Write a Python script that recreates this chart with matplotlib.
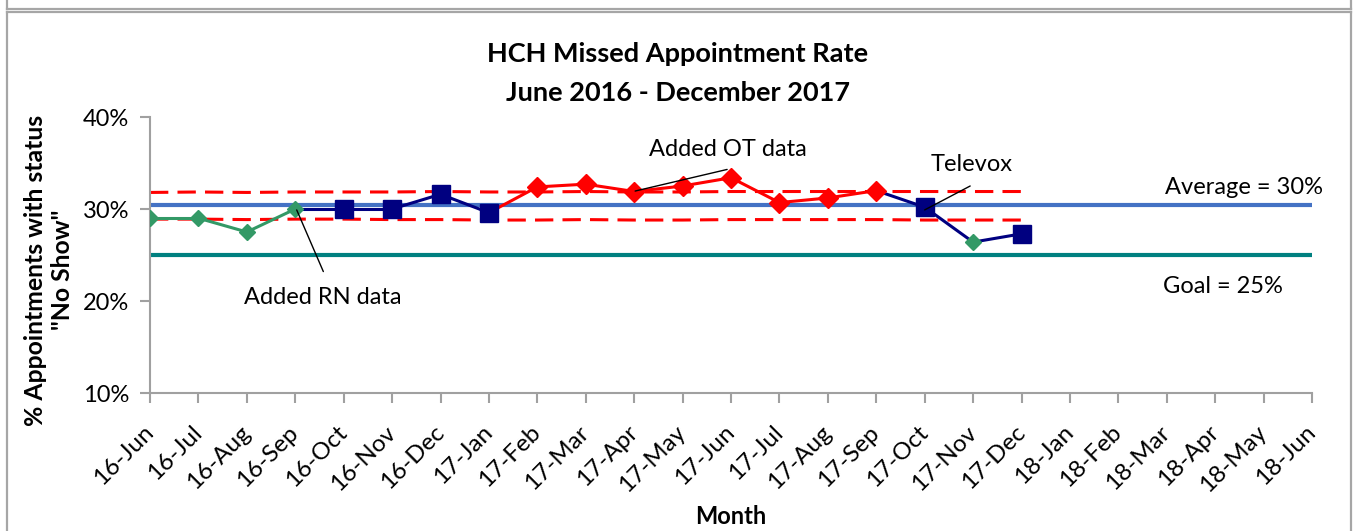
import matplotlib
matplotlib.use('Agg')
import matplotlib.pyplot as plt
from matplotlib.lines import Line2D

# ---------------- data ----------------
months = ['16-Jun', '16-Jul', '16-Aug', '16-Sep', '16-Oct', '16-Nov', '16-Dec',
          '17-Jan', '17-Feb', '17-Mar', '17-Apr', '17-May', '17-Jun', '17-Jul',
          '17-Aug', '17-Sep', '17-Oct', '17-Nov', '17-Dec', '18-Jan', '18-Feb',
          '18-Mar', '18-Apr', '18-May', '18-Jun']
rates = [29.0, 29.0, 27.5, 30.0, 30.0, 30.0, 31.6, 29.6, 32.4, 32.7, 31.9,
         32.5, 33.4, 30.7, 31.2, 32.0, 30.2, 26.4, 27.3]
point_groups = ['RN'] * 4 + ['base'] * 4 + ['OT'] * 8 + ['base', 'RN', 'base']
segment_groups = ['RN'] * 3 + ['base'] * 4 + ['OT'] * 8 + ['base'] * 3
ucl = [31.8, 31.85, 31.8, 31.85, 31.85, 31.85, 31.9, 31.85, 31.85, 31.9, 31.85,
       31.85, 31.9, 31.9, 31.9, 31.9, 31.9, 31.9, 31.9]
lcl = [28.9, 28.9, 28.85, 28.9, 28.9, 28.85, 28.85, 28.8, 28.8, 28.85, 28.8,
       28.8, 28.85, 28.85, 28.85, 28.85, 28.8, 28.8, 28.8]
average = 30.4
goal = 25.0
yticks = [10, 20, 30, 40]

styles = {
    'RN': dict(color='#339966', marker='D', ms=8.6),
    'base': dict(color='#000080', marker='s', ms=12.5),
    'OT': dict(color='#FF0000', marker='D', ms=9.8),
}

FONT = 'Lato'
plt.rcParams['font.family'] = [FONT, 'DejaVu Sans']

W, H = 1356, 531
fig = plt.figure(figsize=(W / 100, H / 100), dpi=100)
fig.patch.set_facecolor('white')

ax = fig.add_axes([150 / W, 1 - 393 / H, (1312 - 150) / W, (393 - 117) / H])
ax.set_facecolor('none')

x = list(range(len(rates)))

# reference lines
ax.axhline(average, color='#4472C4', lw=3.0, zorder=2)
ax.axhline(goal, color='#008080', lw=3.0, zorder=2)
ax.plot(x, ucl, color='#FF0000', lw=2.2, ls=(0, (6, 3)), zorder=2.5)
ax.plot(x, lcl, color='#FF0000', lw=2.2, ls=(0, (6, 3)), zorder=2.5)

# data segments
for i, g in enumerate(segment_groups):
    ax.plot([x[i], x[i + 1]], rates[i:i + 2], color=styles[g]['color'],
            lw=2.2, zorder=3, solid_capstyle='round')

# markers
for g, st in styles.items():
    xs = [xi for xi, pg in zip(x, point_groups) if pg == g]
    ys = [r for r, pg in zip(rates, point_groups) if pg == g]
    ax.plot(xs, ys, ls='none', marker=st['marker'], ms=st['ms'],
            mfc=st['color'], mec=st['color'], zorder=4)

ax.set_xlim(0, len(months) - 1)
ax.set_ylim(10, 40)
ax.set_yticks(yticks)
ax.set_yticklabels([f'{v}%' for v in yticks], fontsize=17)
ax.set_xticks(range(len(months)))
ax.set_xticklabels(months, fontsize=17.5, rotation=45, ha='right',
                   va='center', rotation_mode='anchor')

for s in ['top', 'right']:
    ax.spines[s].set_visible(False)
for s in ['left', 'bottom']:
    ax.spines[s].set_color('#A0A0A0')
    ax.spines[s].set_linewidth(1.5)
ax.tick_params(axis='both', color='#A0A0A0', width=1.5, length=7,
               direction='out', labelcolor='black')
ax.tick_params(axis='y', pad=8)
ax.tick_params(axis='x', pad=19)

# annotations
ann = dict(arrowstyle='-', color='black', lw=1.0, shrinkA=0, shrinkB=0)
ax.annotate('', xy=(3.03, 29.9), xytext=(3.58, 23.2), arrowprops=ann, zorder=5)
ax.text(3.57, 20.4, 'Added RN data', fontsize=17, ha='center', va='center')
ax.annotate('', xy=(10.02, 31.95), xytext=(11.92, 34.3), arrowprops=ann, zorder=5)
ax.text(11.94, 36.5, 'Added OT data', fontsize=17, ha='center', va='center')
ax.annotate('', xy=(16.0, 29.9), xytext=(16.94, 32.5), arrowprops=ann, zorder=5)
ax.text(16.98, 34.8, 'Televox', fontsize=17, ha='center', va='center')
ax.text(22.6, 32.3, 'Average = 30%', fontsize=17, ha='center', va='center')
ax.text(22.16, 21.6, 'Goal = 25%', fontsize=17, ha='center', va='center')

# titles / labels
fig.text(0.5, 1 - 54 / H, 'HCH Missed Appointment Rate', fontsize=19.5,
         fontweight='bold', ha='center', va='center')
fig.text(0.5, 1 - 93 / H, 'June 2016 - December 2017', fontsize=19.5,
         fontweight='bold', ha='center', va='center')
fig.text(49 / W, 1 - 270 / H, '% Appointments with status\n"No Show"',
         fontsize=17.8, fontweight='bold', rotation=90, ha='center',
         va='center', multialignment='center', linespacing=1.25)
fig.text(731 / W, 1 - 517 / H, 'Month', fontsize=17, fontweight='bold',
         ha='center', va='center')

# outer frames (chart area border, in pixels)
bc = '#A6A6A6'
def pxline(xs, ys):
    fig.add_artist(Line2D([v / W for v in xs], [1 - v / H for v in ys],
                          color=bc, lw=1.6, transform=fig.transFigure))
pxline([7, 7], [0, 9])
pxline([7, 1351], [9, 9])
pxline([1351, 1351], [0, 9])
pxline([7, 1351], [12, 12])
pxline([7, 7], [12, 531])
pxline([1351, 1351], [12, 531])

fig.savefig('out.png', dpi=100)
